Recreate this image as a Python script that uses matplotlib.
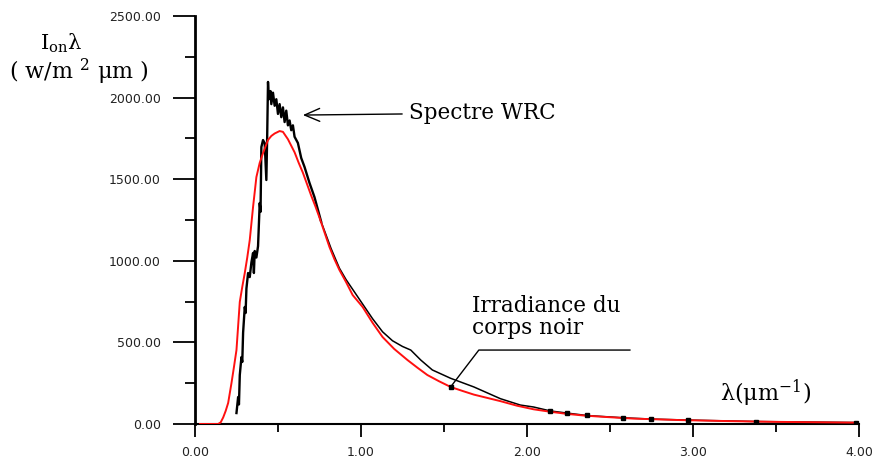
import matplotlib
matplotlib.use("Agg")
import matplotlib.pyplot as plt
from matplotlib.ticker import MultipleLocator, FormatStrFormatter

plt.rcParams["mathtext.fontset"] = "dejavuserif"

# Blackbody irradiance (red curve)
red_x = [0.03, 0.14, 0.155, 0.17, 0.185, 0.20, 0.21, 0.22, 0.235, 0.25, 0.26, 0.27,
         0.285, 0.30, 0.315, 0.33, 0.35, 0.37, 0.39, 0.41, 0.44, 0.46, 0.48, 0.51,
         0.53, 0.56, 0.58, 0.60, 0.625, 0.65, 0.675, 0.70, 0.725, 0.75, 0.78, 0.81,
         0.84, 0.87, 0.91, 0.95, 1.01, 1.07, 1.13, 1.20, 1.28, 1.34, 1.40, 1.47,
         1.54, 1.61, 1.68, 1.76, 1.84, 1.94, 2.04, 2.14, 2.24, 2.34, 2.44, 2.64,
         2.92, 3.20, 3.50, 3.80, 4.00]
red_y = [0, 0, 10, 40, 80, 129, 190, 251, 350, 453, 600, 748,
         840, 925, 1020, 1127, 1330, 1513, 1600, 1660, 1740, 1765, 1780, 1795,
         1790, 1745, 1705, 1665, 1600, 1540, 1470, 1400, 1335, 1265, 1175, 1085,
         1010, 944, 870, 790, 717, 620, 533, 460, 392, 345, 300, 262,
         227, 203, 180, 160, 140, 112, 90, 75, 62, 52, 45, 33,
         24, 18, 13, 10, 8]

# Measured WRC solar spectrum (black curve)
wrc_x = [0.25, 0.26, 0.265, 0.27, 0.28, 0.285, 0.29, 0.30, 0.305, 0.31, 0.32, 0.33,
         0.34, 0.35, 0.355, 0.36, 0.37, 0.38, 0.39, 0.395, 0.40, 0.41, 0.42, 0.43,
         0.435, 0.44, 0.445, 0.455, 0.46, 0.47, 0.48, 0.49, 0.50, 0.51, 0.52, 0.53,
         0.54, 0.55, 0.56, 0.57, 0.58, 0.59, 0.60, 0.62, 0.64, 0.66, 0.69, 0.72,
         0.76, 0.82, 0.87, 0.91, 0.97, 1.02, 1.07, 1.13, 1.19, 1.25, 1.30, 1.36,
         1.43, 1.54, 1.68, 1.84, 1.96, 2.04, 2.14, 2.24, 2.36, 2.58, 2.75, 2.97,
         3.38, 3.98]
wrc_y = [67, 165, 120, 300, 410, 380, 560, 717, 680, 830, 925, 900,
         990, 1048, 925, 1060, 1020, 1090, 1354, 1300, 1697, 1740, 1720, 1495,
         1760, 2096, 1990, 2040, 1960, 2030, 1950, 1990, 1900, 1960, 1880, 1940,
         1850, 1920, 1830, 1860, 1800, 1830, 1760, 1722, 1630, 1575, 1477, 1390,
         1240, 1075, 955, 885, 795, 720, 645, 565, 510, 475, 453, 392,
         331, 280, 227, 155, 116, 104, 80, 67, 52, 38, 30, 24,
         15, 9]
tail_marks = list(range(66, len(wrc_x)))

fig = plt.figure(figsize=(8.81, 4.61), dpi=100)
ax = fig.add_axes([0.2213, 0.0803, 0.7537, 0.885])

split = wrc_x.index(0.76)
ax.plot(wrc_x[:split + 1], wrc_y[:split + 1], color="black", lw=1.7, zorder=2)
ax.plot(wrc_x[split:], wrc_y[split:], color="black", lw=1.1, zorder=2)
ax.plot(red_x, red_y, color="#ff1010", lw=1.4, zorder=3)
ax.plot(wrc_x, wrc_y, color="black", lw=0, marker="s", markersize=2.5,
        markevery=tail_marks, zorder=4)

ax.set_xlim(0, 4)
ax.set_ylim(0, 2500)
for s in ("top", "right"):
    ax.spines[s].set_visible(False)
ax.spines["left"].set_linewidth(2.0)
ax.spines["bottom"].set_linewidth(1.5)

ax.xaxis.set_major_locator(MultipleLocator(1))
ax.xaxis.set_minor_locator(MultipleLocator(0.5))
ax.yaxis.set_major_locator(MultipleLocator(500))
ax.yaxis.set_minor_locator(MultipleLocator(250))
ax.xaxis.set_major_formatter(FormatStrFormatter("%.2f"))
ax.yaxis.set_major_formatter(FormatStrFormatter("%.2f"))
ax.tick_params(axis="y", which="major", direction="out", length=15.5, width=1.3,
               pad=9, labelsize=9, labelcolor="#222222")
ax.tick_params(axis="y", which="minor", direction="out", length=7, width=1.3)
ax.tick_params(axis="x", which="major", direction="out", length=9.5, width=1.3,
               pad=6, labelsize=9, labelcolor="#222222")
ax.tick_params(axis="x", which="minor", direction="out", length=6, width=1.3)

serif = "DejaVu Serif"

# Axis titles
fig.text(0.045, 0.905, r"I$_{\mathrm{on}}$λ", family=serif, fontsize=15,
         ha="left", va="center")
fig.text(0.010, 0.845, r"( w/m $^{2}$ μm )", family=serif, fontsize=16,
         ha="left", va="center")
ax.text(3.16, 190, r"λ(μm$^{-1}$)", family=serif, fontsize=16,
        ha="left", va="center")

# Curve labels
ax.annotate("Spectre WRC", xy=(0.65, 1893), xytext=(1.29, 1905),
            family=serif, fontsize=15.5, ha="left", va="center",
            arrowprops=dict(arrowstyle="->,head_length=0.7,head_width=0.3",
                            color="black", lw=1.0, shrinkA=3, shrinkB=0))

k = red_x.index(1.54)
px, py = red_x[k], red_y[k]
ax.plot([2.62, 1.71, px], [453, 453, py], color="black", lw=1.0, zorder=5)
ax.plot([px], [py], marker="s", color="black", markersize=3.5, zorder=6)
ax.text(1.67, 655, "Irradiance du\ncorps noir", family=serif, fontsize=15.5,
        ha="left", va="center", linespacing=1.0)

fig.savefig("out.png", dpi=100)
